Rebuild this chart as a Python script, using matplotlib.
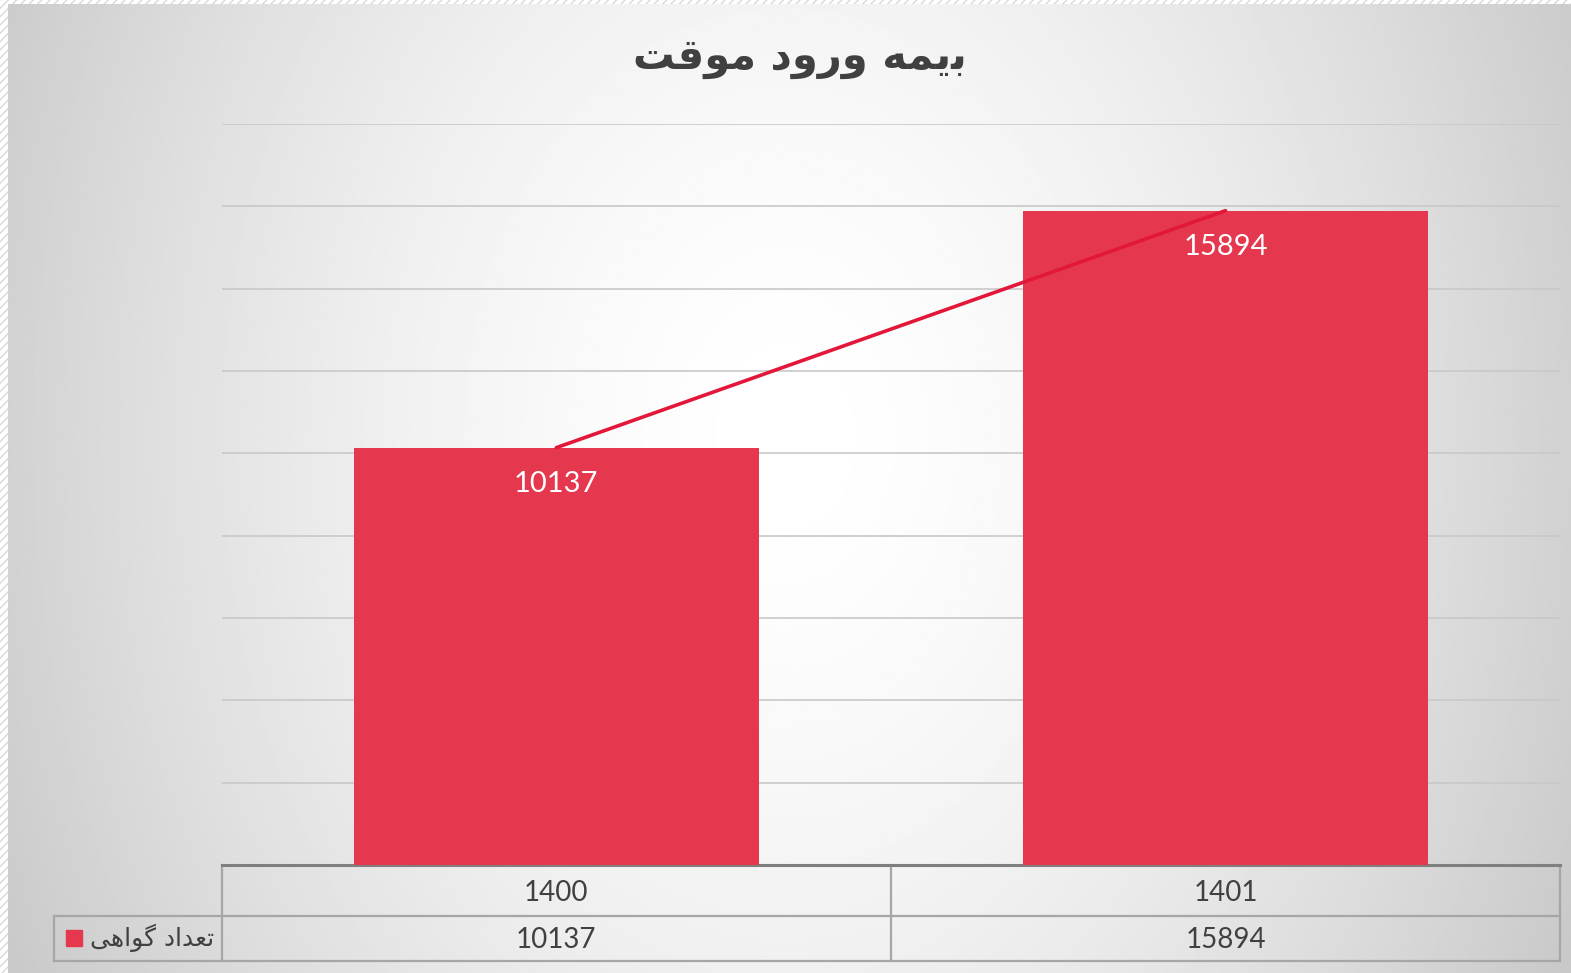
import numpy as np
import matplotlib
matplotlib.use('Agg')
import matplotlib.pyplot as plt
from matplotlib.patches import Rectangle

years = ['1400', '1401']
counts = [10137, 15894]
# "بیمه ورود موقت" and "تعداد گواهی" in Arabic presentation forms, visual order
# (matplotlib does no Arabic shaping on its own)
title = '\ufe96\ufed7\ufeee\ufee3 \ufea9\ufeed\ufead\ufeed \ufeea\ufee4\ufbfe\ufe91'
series_name = '\ufbfd\ufeeb\ufe8d\ufeee\ufb94 \ufea9\ufe8d\ufeaa\ufecc\ufe97'

bar_color = '#e5384f'
line_color = '#e3173a'
text_color = '#404040'
table_color = '#a6a6a6'

plt.rcParams['font.family'] = ['Lato', 'DejaVu Sans']

fig = plt.figure(figsize=(15.71, 9.73), dpi=100)

# radial gray background like the Excel chart area
bg = fig.add_axes([0, 0, 1, 1], zorder=-10)
yy, xx = np.mgrid[0:1:400j, 0:1:600j]
r = np.sqrt(((xx - 0.5) / 0.6) ** 2 + ((yy - 0.55) / 1.3) ** 2)
shade = 1 - 0.24 * np.clip(r, 0, 1) ** 1.6
bg.imshow(shade, cmap='gray', vmin=0, vmax=1, extent=[0, 1, 0, 1],
          origin='lower', aspect='auto')
bg.axis('off')

# hatched screenshot border on top and left
for rect in [(0, 0, 8 / 1571, 1), (0, 1 - 4 / 973, 1, 4 / 973)]:
    fig.patches.append(Rectangle(rect[:2], rect[2], rect[3], transform=fig.transFigure,
                                 facecolor='white', edgecolor='#d9d9d9', hatch='////',
                                 lw=0, zorder=5))

ax = fig.add_axes([0.1411, 0.111, 0.852, 0.7616])
ax.set_facecolor('none')
x = np.arange(len(years))
ax.bar(x, counts, width=0.605, color=bar_color, zorder=3)
ax.plot(x, counts, color=line_color, lw=2.6, zorder=4, solid_capstyle='round')

for i, v in enumerate(counts):
    ax.annotate(str(v), (i, v), xytext=(0, -26), textcoords='offset points',
                ha='center', va='center', color='white', fontsize=21, zorder=5)

ax.set_xlim(-0.5, 1.5)
ax.set_ylim(0, 18000)
ax.set_yticks(range(0, 18001, 2000))
ax.yaxis.grid(True, color='#c8c8c8', lw=1.2, zorder=0)
ax.set_axisbelow(True)
ax.set_xticks([])
ax.tick_params(left=False, labelleft=False)
for s in ['top', 'right', 'left']:
    ax.spines[s].set_visible(False)
ax.spines['bottom'].set_color('#7f7f7f')
ax.spines['bottom'].set_linewidth(2.2)

# data table under the axis
tr = ax.get_xaxis_transform()
h1, h2 = -0.0684, -0.1291
kw = dict(transform=tr, clip_on=False, color=table_color, lw=1.6)
for xv in [-0.5, 0.5, 1.5]:
    ax.plot([xv, xv], [0, h2], **kw)
ax.plot([-0.75, 1.5], [h1, h1], **kw)
ax.plot([-0.75, 1.5], [h2, h2], **kw)
ax.plot([-0.75, -0.75], [h1, h2], **kw)

for i, (yr, v) in enumerate(zip(years, counts)):
    ax.text(i, h1 / 2 - 0.003, yr, transform=tr, ha='center', va='center',
            fontsize=20, color=text_color)
    ax.text(i, (h1 + h2) / 2 - 0.003, str(v), transform=tr, ha='center', va='center',
            fontsize=20, color=text_color)

ax.plot([-0.72], [(h1 + h2) / 2], marker='s', ms=11, color=bar_color,
        transform=tr, clip_on=False)
ax.text(-0.512, (h1 + h2) / 2, series_name, transform=tr, ha='right', va='center',
        fontsize=18, color=text_color, family='DejaVu Sans')

fig.text(0.509, 1 - 58 / 973, title, ha='center', va='center', fontsize=30,
         weight='bold', family='DejaVu Sans', color=text_color)

fig.savefig('out.png', dpi=100)
